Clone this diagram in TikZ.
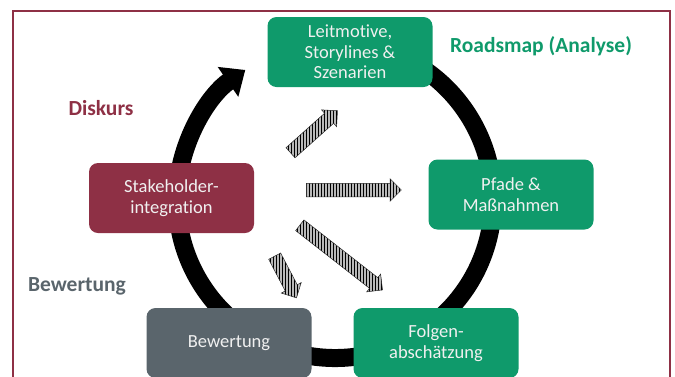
\documentclass[tikz,border=0pt]{standalone}
\usepackage{fontspec}
\setmainfont{Carlito}[Ligatures=NoCommon]
\usetikzlibrary{arrows.meta,shapes.arrows,patterns}
\definecolor{bordeaux}{HTML}{8E3045}
\definecolor{gruen}{HTML}{0F9A6B}
\definecolor{grau}{HTML}{5A656C}
\begin{document}
\begin{tikzpicture}[x=1pt,y=1pt,
  box/.style={rounded corners=9pt, minimum width=165pt, minimum height=70pt, align=center, text=white!94!black, font=\fontsize{18.5}{20.5}\selectfont, inner sep=2pt},
  label/.style={font=\fontsize{21.5}{24}\selectfont\bfseries},
  hatcharrow/.style={single arrow, draw=black!85, line width=0.5pt, preaction={fill=gray!55}, pattern=vertical lines, single arrow head extend=4.5pt, inner xsep=0pt, inner ysep=6.5pt}]
\useasboundingbox (0,0) rectangle (675,-376);
\draw[bordeaux, line width=1.3pt] (13,-11) rectangle (670,-390);
% ring
\coordinate (m) at (335,-200);
\draw[line width=18pt, -{Triangle[width=35pt,length=21pt]}] ([shift={(80:158pt)}]m) arc[start angle=80, end angle=-235.4, radius=158pt];
% boxes
\node[box, fill=gruen] (leit) at (350,-52) {Leitmotive,\\Storylines \&\\Szenarien};
\node[box, fill=bordeaux] (stake) at (171.5,-198) {Stakeholder-\\integration};
\node[box, fill=gruen] (pfade) at (511,-194.5) {Pfade \&\\Maßnahmen};
\node[box, fill=grau] (bew) at (229,-343) {Bewertung};
\node[box, fill=gruen] (folgen) at (436,-343) {Folgen-\\abschätzung};
% labels
\node[label, text=gruen] (roadmap) at (541,-46) {Roadsmap (Analyse)};
\node[label, text=bordeaux] (diskurs) at (101,-108) {Diskurs};
\node[label, text=grau] (bewlabel) at (77,-286) {Bewertung};
% hatched arrows
\node[hatcharrow, minimum height=63pt, rotate=41.8] (p1) at (311.5,-134) {};
\node[hatcharrow, minimum height=95pt] (p2) at (350.5,-190) {};
\node[hatcharrow, minimum height=105pt, rotate=-38] (p3) at (338.5,-255.5) {};
\node[hatcharrow, minimum height=47pt, rotate=-62.4] (p4) at (284,-274) {};
\end{tikzpicture}
\end{document}
